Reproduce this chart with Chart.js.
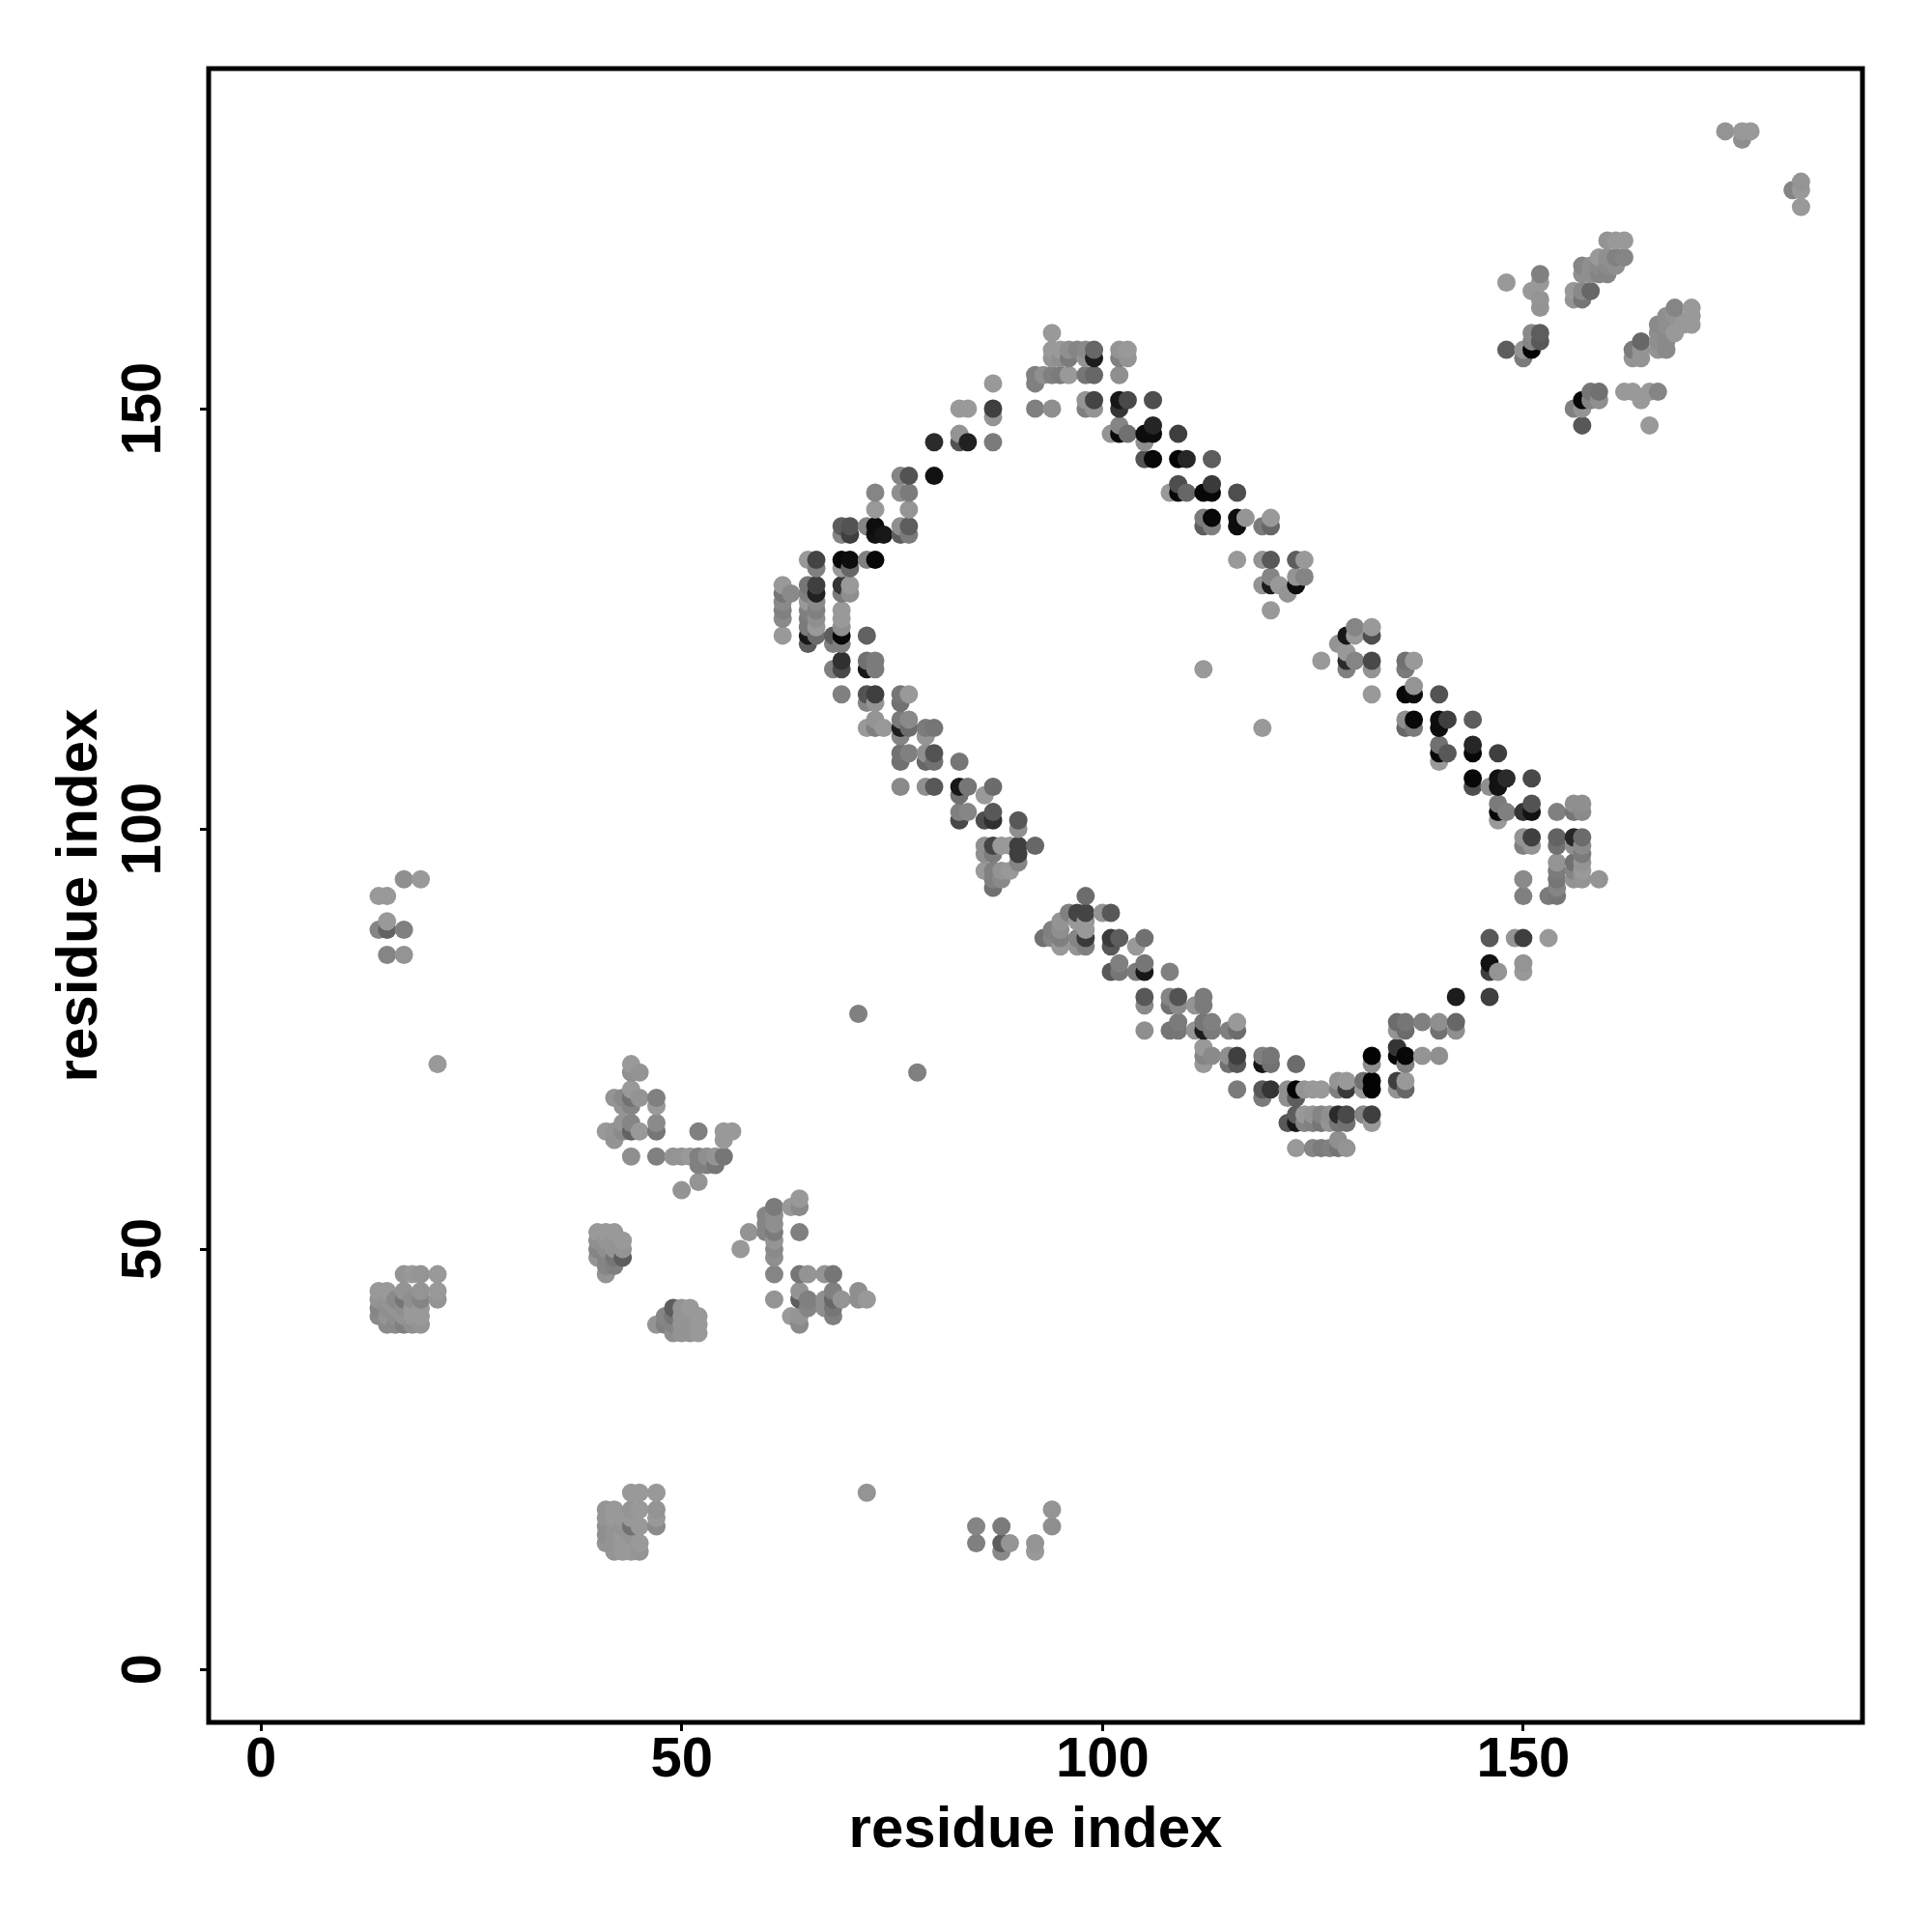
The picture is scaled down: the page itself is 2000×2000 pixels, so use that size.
<!DOCTYPE html>
<html>
<head>
<meta charset="utf-8">
<style>
  html, body { margin: 0; padding: 0; background: #fff; }
  canvas { display: block; }
</style>
<script src="https://cdn.jsdelivr.net/npm/chart.js@4"></script>
</head>
<body>
<canvas id="contactMap" width="2000" height="2000"></canvas>
<script>
// every row: residue x, residue y, contact strength (0 = weak, 150 = strong)
const farCluster = [[17,94,10],[19,94,0],[14,92,0],[15,92,0],[14,88,20],[15,88,55],[15,89,0],[17,88,25],[15,85,20],[17,85,5],[21,72,0]];
const sheetA = [[44,72,0],[44,71,10],[45,71,5],[44,69,0],[42,68,5],[43,68,15],[44,68,40],[45,68,5],[43,67,5],[44,67,20],[47,68,25],[47,67,0],[43,65,5],[44,65,20],[47,65,15],[41,64,0],[42,64,5],[43,64,15],[44,64,55],[45,64,0],[47,64,35],[42,63,5],[52,64,25],[55,64,0],[56,64,0],[55,63,0],[44,61,10],[47,61,25],[49,61,5],[50,61,5],[51,61,0],[52,61,25],[53,61,10],[54,61,5],[55,61,35],[52,60,25],[53,60,25],[54,60,35],[52,58,5],[50,57,5]];
const sheetB = [[40,52,0],[41,52,0],[42,52,0],[43,51,0],[40,51,10],[41,51,5],[42,51,5],[40,50,20],[41,50,10],[42,50,5],[43,50,5],[40,49,5],[41,49,20],[42,49,35],[43,49,60],[41,48,20],[42,48,25],[41,47,5]];
const sheetC = [[47,41,5],[48,42,20],[48,41,25],[49,43,60],[49,42,35],[49,41,20],[49,40,10],[50,43,5],[51,43,0],[50,42,5],[50,41,5],[50,40,5],[51,42,5],[51,41,5],[51,40,5],[52,42,0],[52,41,0],[52,40,0]];
const sheetD = [[64,56,0],[63,55,0],[64,55,15],[61,55,30],[60,54,20],[61,54,10],[60,53,20],[61,53,10],[58,52,5],[60,52,20],[61,52,30],[64,52,25],[61,51,5],[57,50,0],[61,50,15],[61,49,10],[61,47,20],[64,47,35],[65,47,5],[67,47,5],[68,47,35],[61,44,5],[64,45,5],[64,44,60],[65,44,25],[67,44,10],[68,45,25],[68,44,50],[69,44,5],[71,45,10],[71,44,10],[72,44,0],[63,42,0],[64,42,5],[65,43,20],[67,43,10],[68,43,35],[68,42,25],[64,41,15]];
const sheetE = [[17,47,5],[18,47,0],[19,47,5],[21,47,0],[14,45,0],[15,45,0],[17,45,5],[19,45,5],[21,45,0],[21,44,5],[14,44,5],[15,44,5],[16,44,15],[17,44,35],[18,44,10],[19,44,20],[14,43,20],[15,43,10],[16,43,5],[17,43,10],[18,43,0],[19,43,0],[14,42,15],[15,42,5],[16,42,10],[17,42,5],[18,42,0],[19,42,0],[15,41,15],[16,41,15],[17,41,25],[18,41,10],[19,41,5]];
const sheetF = [[44,21,0],[45,21,0],[47,21,0],[41,19,5],[42,19,0],[44,19,5],[45,19,0],[47,19,5],[47,18,0],[47,17,15],[41,18,5],[42,18,0],[43,18,0],[44,18,0],[41,17,10],[42,17,5],[43,17,5],[44,17,40],[45,17,0],[41,16,10],[42,16,5],[43,16,0],[44,16,5],[41,15,5],[42,15,5],[43,15,0],[44,15,0],[45,15,0],[42,14,5],[43,14,0],[44,14,0],[45,14,5]];
const sheetG = [[72,21,5],[85,17,20],[85,15,25],[88,17,30],[88,15,60],[89,15,5],[88,14,15],[94,19,5],[94,17,10],[92,15,5],[92,14,0]];
const isolated = [[71,78,25],[78,71,25],[112,119,0],[119,112,0]];
const ringUpperLeft = [[65,132,0],[66,132,85],[66,131,25],[69,132,145],[70,132,140],[69,131,0],[70,131,50],[72,132,25],[73,132,145],[69,136,60],[70,136,70],[72,136,20],[73,136,140],[76,136,10],[77,136,60],[69,135,20],[70,135,90],[73,135,135],[74,135,130],[76,135,60],[77,135,30],[73,138,0],[77,138,5],[73,140,20],[76,140,10],[77,140,30],[76,142,20],[77,142,70],[80,142,135],[80,146,110],[83,146,70],[84,146,120],[87,146,30],[83,147,5],[83,150,0],[84,150,0],[87,150,90],[87,149,5],[87,153,0]];
const ringLowerLeft = [[62,129,0],[63,128,15],[62,128,35],[62,127,15],[62,126,25],[62,125,15],[62,123,0],[65,129,35],[66,129,90],[65,128,25],[66,128,120],[65,127,0],[66,127,15],[65,126,25],[66,126,25],[65,125,30],[66,125,10],[65,124,30],[66,124,0],[65,123,130],[66,123,45],[65,122,60],[68,123,60],[68,122,25],[69,129,100],[70,129,0],[69,128,30],[70,128,10],[69,126,0],[69,125,0],[69,124,10],[69,123,145],[69,122,25],[72,123,55],[69,120,105],[69,119,80],[68,119,25],[72,120,40],[73,120,30],[72,119,130],[73,119,30],[69,116,25],[72,116,70],[73,116,90],[72,115,20],[73,115,5],[76,116,35],[77,116,0],[76,115,40],[73,113,5],[72,112,0],[73,112,25],[74,112,0],[76,113,30],[77,113,15],[76,112,125],[77,112,45],[76,111,20],[79,112,30],[80,112,35],[79,111,5],[76,109,40],[77,109,25],[76,108,40],[79,109,10],[80,109,70],[79,108,50],[80,108,40],[83,108,35],[76,105,15],[79,105,10],[80,105,65],[83,105,130],[84,105,35],[87,105,45],[86,104,0],[83,104,40],[83,102,25],[84,102,20],[83,101,80],[86,101,75],[87,102,65],[87,101,105],[90,101,65],[90,100,10],[86,98,10],[87,98,85],[87,97,30],[86,97,10],[88,98,0],[89,98,0],[90,98,90],[90,97,90],[92,98,50],[90,96,20],[86,95,0],[87,95,25],[88,95,5],[89,95,0],[87,94,25],[88,94,15],[87,93,40]];
const ringBottom = [[98,92,45],[96,90,25],[97,90,85],[98,90,85],[100,90,5],[101,90,65],[95,89,5],[97,89,0],[98,89,0],[94,88,25],[95,88,10],[98,88,0],[93,87,40],[94,87,20],[95,87,25],[97,87,20],[98,87,95],[101,87,95],[102,87,60],[105,87,40],[95,86,0],[97,86,5],[98,86,25],[101,86,65],[104,86,0],[102,84,25],[105,84,35],[101,83,65],[102,83,35],[104,83,30],[105,83,130],[108,83,25],[105,80,65],[105,79,15],[108,80,20],[109,80,70],[108,79,40],[109,79,15],[111,79,5],[112,80,30],[112,79,30],[105,76,10],[108,76,35],[109,77,30],[109,76,35],[111,76,5],[112,77,35],[112,76,125],[113,77,25],[113,76,30],[115,76,25],[116,77,0],[116,76,45],[112,74,0],[113,73,15],[112,73,20],[112,72,0],[115,73,10],[116,73,90],[115,72,40],[116,72,65],[119,73,25],[120,73,35],[119,72,130],[120,72,40],[123,72,45],[116,69,30],[119,69,65],[120,69,100],[119,68,30],[122,69,10],[123,69,150],[123,68,60],[122,65,65],[123,66,60],[123,65,130]];
const ringBottomRight = [[124,69,5],[125,69,0],[126,69,0],[122,68,10],[128,70,5],[129,70,0],[128,69,25],[129,69,95],[131,70,40],[132,70,150],[131,69,0],[132,69,150],[132,73,150],[132,72,10],[135,70,90],[136,70,0],[135,69,5],[136,69,50],[135,74,100],[135,73,145],[136,73,145],[136,72,25],[138,73,5],[140,73,10],[135,77,45],[136,77,35],[135,76,5],[136,76,45],[138,77,25],[140,77,10],[140,76,40],[142,77,50],[142,76,10],[142,80,125],[146,80,90],[146,84,135],[146,83,90],[147,83,5],[146,87,65],[124,66,0],[125,66,5],[126,66,20],[127,66,10],[128,66,110],[129,66,80],[124,65,20],[125,65,25],[126,65,35],[127,65,5],[128,65,35],[129,65,40],[131,66,20],[132,66,90],[132,65,0],[123,62,0],[125,62,20],[126,62,30],[127,62,25],[128,63,10],[128,62,35],[129,62,5]];
const ringRight = [[132,123,75],[132,124,0],[132,120,80],[132,119,5],[136,120,40],[137,120,0],[136,119,30],[132,116,0],[136,116,145],[137,116,140],[137,117,5],[140,116,70],[136,113,10],[137,113,145],[136,112,50],[137,112,30],[140,113,140],[141,113,90],[140,112,140],[144,113,60],[140,110,40],[141,109,65],[140,109,145],[140,108,0],[144,110,115],[144,109,145],[147,109,90],[144,106,145],[144,105,75],[147,106,135],[148,106,110],[147,105,135],[146,105,10],[151,106,80],[147,103,30],[148,102,25],[147,102,145],[147,101,0],[150,102,100],[151,103,70],[151,102,135],[154,102,25],[156,103,10],[157,103,10],[156,102,35],[157,102,15],[150,99,5],[151,99,90],[150,98,25],[151,98,5],[154,99,55],[156,99,115],[157,99,45],[154,98,40],[156,98,10],[157,98,15],[157,97,30],[156,96,40],[157,96,5],[154,96,5],[154,95,30],[156,95,20],[157,95,0],[154,94,35],[156,94,5],[157,94,5],[159,94,5],[150,94,15],[150,92,25],[153,92,30],[154,92,35],[154,93,20],[149,87,5],[150,87,90],[153,87,0],[150,84,5],[150,83,0]];
const ringUpperRight = [[120,137,0],[119,136,30],[120,136,50],[119,132,5],[120,132,65],[123,132,60],[124,132,0],[120,130,20],[119,129,5],[120,129,125],[121,129,0],[123,130,5],[124,130,20],[123,129,140],[122,128,5],[120,126,0],[126,120,0],[129,123,130],[130,124,20],[130,123,0],[128,122,5],[129,121,0],[129,120,110],[130,120,20],[129,119,25]];
const ringTop = [[94,159,0],[94,157,0],[95,157,0],[96,157,10],[97,157,20],[98,157,15],[99,157,50],[94,156,5],[95,156,10],[96,156,30],[98,156,5],[99,156,125],[102,157,5],[103,157,0],[102,156,25],[103,156,5],[92,154,25],[93,154,10],[94,154,25],[95,154,30],[96,154,0],[98,154,35],[99,154,50],[102,154,10],[92,153,25],[92,150,25],[94,150,10],[98,151,5],[99,151,85],[98,150,25],[99,150,5],[102,151,130],[103,151,80],[102,150,100],[106,151,75],[101,147,5],[102,148,20],[102,147,145],[103,147,40],[105,147,140],[106,148,115],[106,147,140],[105,146,10],[109,147,90],[105,144,70],[106,144,145],[109,144,150],[110,144,115],[113,144,60],[108,140,0],[109,141,75],[109,140,145],[110,140,50],[112,140,145],[113,141,95],[113,140,145],[116,140,75],[112,137,30],[113,137,145],[112,136,60],[113,136,25],[116,137,140],[117,137,5],[116,136,140],[116,132,0]];
const topRight = [[174,183,5],[176,183,0],[177,183,0],[176,182,10],[182,176,20],[183,177,5],[183,176,0],[183,174,0],[160,170,5],[161,170,0],[162,170,0],[161,168,25],[162,168,20],[159,168,0],[160,168,10],[157,167,20],[158,167,10],[159,167,15],[160,167,15],[161,167,10],[157,166,10],[158,166,10],[159,166,20],[160,166,20],[156,164,0],[157,164,15],[158,164,50],[156,163,5],[157,163,35],[148,165,0],[152,166,25],[152,165,0],[151,164,0],[152,163,5],[152,162,5],[151,159,15],[152,159,60],[151,158,20],[152,158,65],[148,157,60],[150,157,5],[151,157,150],[150,156,30],[168,162,20],[170,162,0],[167,161,10],[168,161,5],[170,161,0],[166,160,15],[167,160,10],[169,160,0],[170,160,0],[166,159,10],[167,159,15],[168,159,0],[166,158,10],[167,158,15],[166,157,5],[167,157,15],[164,158,50],[163,157,30],[164,157,5],[163,156,5],[164,156,5],[158,152,35],[159,152,40],[157,151,145],[158,151,20],[159,151,10],[156,150,25],[157,150,5],[157,148,65],[162,152,0],[163,152,0],[165,152,0],[166,152,20],[164,151,0],[165,148,0]];
const tickValues = [0, 50, 100, 150];
const axisLabel = "residue index";

// the reference draws by x then y, later points cover earlier ones
const contacts = [].concat(farCluster, sheetA, sheetB, sheetC, sheetD, sheetE, sheetF, sheetG, isolated,
  ringUpperLeft, ringLowerLeft, ringBottom, ringBottomRight, ringRight, ringUpperRight, ringTop, topRight)
  .sort((a, b) => a[0] - b[0] || a[1] - b[1]);

function strengthColor(s) {
  const g = 153 - s;
  return `rgb(${g},${g},${g})`;
}

const frame = {
  id: "frame",
  afterDraw(c) {
    const { left, top, width, height } = c.chartArea;
    c.ctx.save();
    c.ctx.lineWidth = 5;
    c.ctx.strokeStyle = "#000";
    c.ctx.strokeRect(left, top, width, height);
    c.ctx.restore();
  }
};

const tickFont = { family: "'Liberation Sans', Arial, sans-serif", weight: "bold", size: 58 };
const titleFont = { family: "'Liberation Sans', Arial, sans-serif", weight: "bold", size: 60 };

function axisOptions(min, max, extra) {
  return Object.assign({
    type: "linear",
    min: min,
    max: max,
    afterBuildTicks: s => { s.ticks = tickValues.map(v => ({ value: v })); },
    border: { display: false },
    grid: { drawOnChartArea: false, drawTicks: true, tickLength: 9, tickWidth: 3, tickColor: "#000" },
  }, extra);
}

new Chart(document.getElementById("contactMap").getContext("2d"), {
  type: "scatter",
  data: {
    datasets: [{
      data: contacts.map(c => ({ x: c[0], y: c[1] })),
      pointRadius: 9.5,
      pointBorderWidth: 0,
      pointBackgroundColor: contacts.map(c => strengthColor(c[2])),
    }]
  },
  options: {
    responsive: false,
    animation: false,
    clip: false,
    layout: { padding: { left: 0, top: 71, right: 72, bottom: 0 } },
    plugins: { legend: { display: false }, tooltip: { enabled: false } },
    scales: {
      x: axisOptions(-6.2, 190.3, {
        afterFit: s => { s.height = 217; },
        ticks: { font: tickFont, color: "#000", padding: -4, maxRotation: 0, autoSkip: false },
        title: { display: true, text: axisLabel, font: titleFont, color: "#000", padding: { top: 0, bottom: 69 } },
      }),
      y: axisOptions(-6.32, 190.46, {
        afterFit: s => { s.width = 216; },
        ticks: { font: tickFont, color: "#000", padding: 8.5, minRotation: 90, maxRotation: 90, autoSkip: false, crossAlign: "center" },
        title: { display: true, text: axisLabel, font: titleFont, color: "#000", padding: { top: 47, bottom: 0 } },
      }),
    }
  },
  plugins: [frame]
});
</script>
</body>
</html>
